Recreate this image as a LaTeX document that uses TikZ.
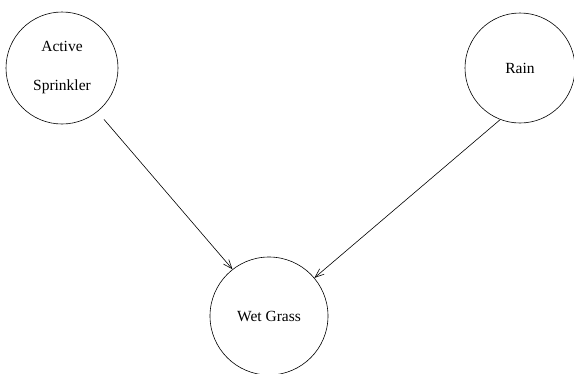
\documentclass[tikz,border=0pt]{standalone}
\usepackage{fontspec}
\setmainfont{Liberation Serif}
\usetikzlibrary{arrows.meta}

\tikzset{every node/.style={draw,circle,minimum size=112pt,inner sep=0pt,font=\fontsize{15.5}{18}\selectfont,align=center}}

\begin{document}
\begin{tikzpicture}[x=1pt,y=-1pt,line width=0.6pt,>={Straight Barb[length=9pt,width=7pt]}]
\useasboundingbox (0,0) rectangle (574,373);
\path
(62,68) node(sprinkler){Active\\[21pt]Sprinkler}
(520,68) node[minimum size=110pt](rain){Rain}
(269,316) node[minimum size=118pt](grass){Wet Grass};
\path[draw,->,shorten <=10pt] (sprinkler.-51)--(grass.128);
\path[draw,->] (rain.249)--(grass.40);
\end{tikzpicture}
\end{document}
